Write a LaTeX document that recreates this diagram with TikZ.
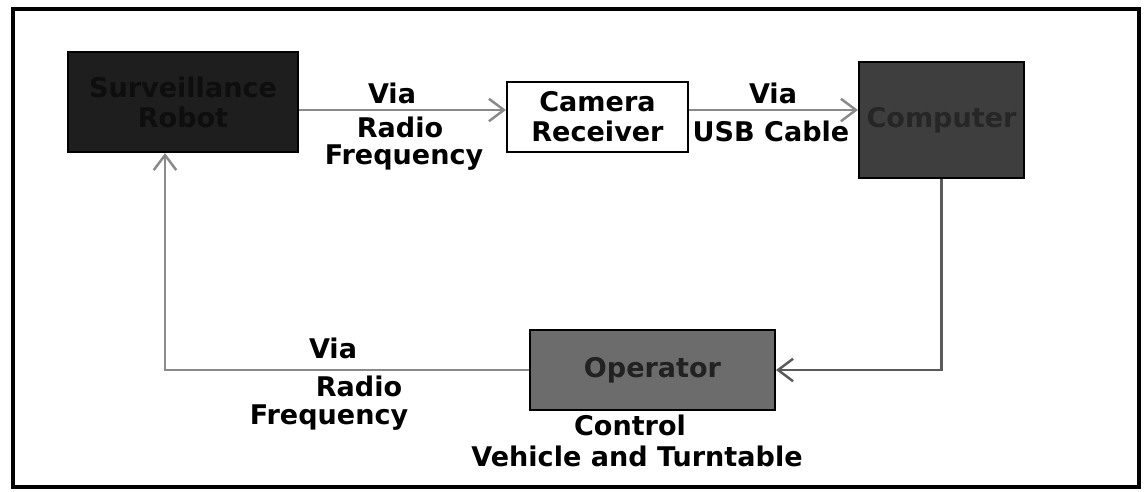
\documentclass[tikz,border=0pt]{standalone}
\usepackage{fontspec}
\setmainfont{DejaVu Sans}
\usetikzlibrary{arrows.meta,positioning}

\definecolor{robotfill}{HTML}{1E1E1E}
\definecolor{robottext}{HTML}{0E0E0E}
\definecolor{pcfill}{HTML}{3E3E3E}
\definecolor{pctext}{HTML}{262626}
\definecolor{opfill}{HTML}{6C6C6C}
\definecolor{optext}{HTML}{222222}
\definecolor{flowgray}{HTML}{8A8A8A}
\definecolor{backgray}{HTML}{5A5A5A}

\begin{document}
\begin{tikzpicture}[x=0.02cm,y=-0.02cm,
    box/.style={draw=black,line width=1.2pt,align=center,inner sep=0pt,
      font=\bfseries\fontsize{15.4}{17}\selectfont},
    lbl/.style={align=center,inner sep=0pt,font=\bfseries\fontsize{15.4}{18}\selectfont},
    flow/.style={draw=flowgray,line width=1.4pt,-{Straight Barb[length=3mm,width=4.5mm]}},
    back/.style={draw=backgray,line width=1.4pt,-{Straight Barb[length=3mm,width=4.5mm]}}]

    % cadre et taille de l'image
    \useasboundingbox (0,0) rectangle (1144,491);
    \draw[line width=0.08cm] (13,9) rectangle (1139,487);

    % les blocs
    \node[box,fill=robotfill,text=robottext,minimum width=4.6cm,minimum height=2cm]
      (robot) at (183,102) {Surveillance\\Robot};
    \node[box,fill=white,minimum width=3.62cm,minimum height=1.4cm]
      (camera) at (597.5,117) {Camera\\Receiver};
    \node[box,fill=pcfill,text=pctext,minimum width=3.3cm,minimum height=2.32cm]
      (computer) at (941.5,120) {Computer};
    \node[box,fill=opfill,text=optext,minimum width=4.9cm,minimum height=1.6cm]
      (operator) at (652.5,370) {Operator};

    % les liaisons
    \coordinate (lvl) at (0,110);
    \draw[flow] (robot.east |- lvl) -- (camera.west |- lvl);
    \draw[flow] (camera.east |- lvl) -- (computer.west |- lvl);
    \draw[back] (computer.south) |- (operator.east);
    \draw[flow] (operator.west) -| ([xshift=-0.36cm]robot.south);

    % les textes
    \node[lbl] (via1) at (392,93) {Via};
    \node[lbl] (radio1) at (400,127) {Radio};
    \node[lbl] (freq1) at (404,158) {Frequency};
    \node[lbl] (via2) at (773,93) {Via};
    \node[lbl] (usb) at (771,131) {USB Cable};
    \node[lbl] (via3) at (333,348) {Via};
    \node[lbl] (radio2) at (359,386) {Radio};
    \node[lbl] (freq2) at (329,418) {Frequency};
    \node[lbl] (ctrl) at (630,425) {Control};
    \node[lbl] (vehicle) at (637,456) {Vehicle and Turntable};
\end{tikzpicture}
\end{document}
